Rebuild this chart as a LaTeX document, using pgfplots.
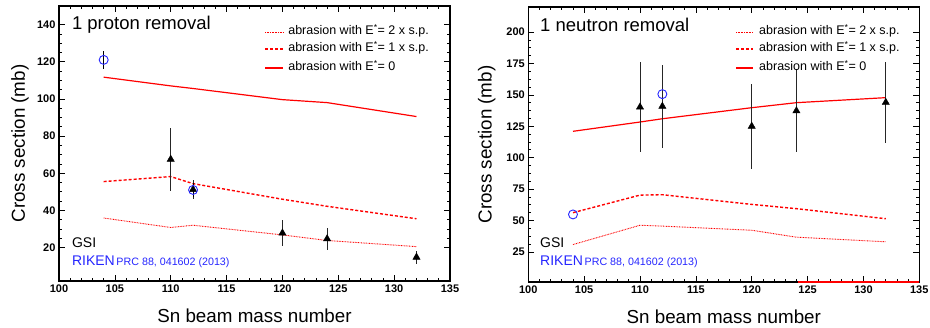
\documentclass[border=0pt]{standalone}
\usepackage{pgfplots}
\pgfplotsset{compat=1.18}
\usepackage{fontspec}
\setmainfont{Liberation Sans}
\definecolor{rkblue}{rgb}{0.15,0.15,1}
\tikzset{
  dotl/.style={draw=red, line width=0.9pt, dash pattern=on 0.8pt off 0.8pt},
  dashl/.style={draw=red, line width=1.4pt, dash pattern=on 3pt off 2pt},
  solidl/.style={draw=red, line width=1.2pt},
  legtxt/.style={anchor=mid west, inner xsep=0pt, font=\fontsize{12.5}{14}\selectfont},
}
\pgfplotsset{
  common/.style={
    scale only axis, width=391pt, height=275pt,
    xmin=100, xmax=135,
    xtick={100,105,...,135}, minor x tick num=4,
    tick align=inside, axis line style={line width=1.3pt},
    major tick length=6pt, minor tick length=3pt,
    every tick/.style={black, line width=0.7pt},
    xtick pos=both, ytick pos=both,
    xticklabel pos=bottom, yticklabel pos=left,
    tick label style={font=\fontsize{11}{12}\selectfont\bfseries},
    /pgf/number format/assume math mode=true,
    /pgf/number format/1000 sep={},
    label style={font=\fontsize{18.8}{22}\selectfont},
    xlabel={Sn beam mass number},
    ylabel={Cross section (mb)},
    xlabel style={at={(axis description cs:0.5,-0.127)}, anchor=center},
  },
  gsi/.style={only marks, mark=triangle*, mark size=4.2pt, black,
    mark options={fill=black},
    error bars/.cd, y dir=both, y explicit,
    error bar style={line width=0.8pt, black!85}, error mark=none},
  riken/.style={only marks, mark=o, mark size=4.5pt, rkblue, mark options={line width=0.9pt},
    error bars/.cd, y dir=both, y explicit,
    error bar style={line width=0.8pt, black}, error mark=none},
}
\begin{document}
\begin{tikzpicture}
% ---------- left: 1 proton removal
\begin{axis}[common, at={(59pt,47pt)}, anchor=south west,
  ymin=2, ymax=150, ytick={20,40,...,140}, minor y tick num=3,
  ylabel style={at={(axis description cs:-0.1,0.5)}, anchor=center},
]
% legend samples
\addplot[solidl] coordinates {(118.45,116.6)(120.06,116.6)};
\addplot[dashl]  coordinates {(118.45,126.9)(120.06,126.9)};
\addplot[dotl]   coordinates {(118.45,135.9)(120.06,135.9)};
% data
\addplot[dotl] coordinates {(104,35.9)(110,30.8)(112,32)(120,26.8)(124,23.8)(132,20.5)};
\addplot[dashl] coordinates {(104,55.5)(110,58.2)(112,54.4)(120,46)(124,42.2)(132,35.5)};
\addplot[solidl] coordinates {(104,111.7)(110,107)(112,105.6)(120,99.6)(124,98)(132,90.5)};
\addplot[gsi] coordinates {
  (110,67.5) +- (0,17)
  (112,51.2) +- (0,5)
  (120,27.8) +- (0,7)
  (124,24.7) +- (0,6)
  (132,14.8) +- (0,3.5)
};
\addplot[riken] coordinates {
  (104,121) +- (0,5)
  (112,51) +- (0,4)
};
\node[legtxt] at (axis description cs:0.586,0.905) {abrasion with E\textsuperscript{*}= 2 x s.p.};
\node[legtxt] at (axis description cs:0.586,0.844) {abrasion with E\textsuperscript{*}= 1 x s.p.};
\node[legtxt] at (axis description cs:0.586,0.775) {abrasion with E\textsuperscript{*}= 0};
\node[anchor=base west, inner xsep=0pt, font=\fontsize{18.5}{21}\selectfont] at (axis cs:101.15,137.1) {1 proton removal};
\node[anchor=base west, inner xsep=0pt, font=\fontsize{14}{16}\selectfont] at (axis cs:101.15,20) {GSI};
\node[anchor=base west, inner xsep=0pt, text=rkblue] at (axis cs:101.15,10.1)
  {{\fontsize{14}{16}\selectfont RIKEN}\,{\fontsize{10.7}{12}\selectfont PRC 88, 041602 (2013)}};
\end{axis}
% ---------- right: 1 neutron removal
\begin{axis}[common, at={(528.3pt,46pt)}, anchor=south west, clip=false,
  ymin=1, ymax=220, ytick={25,50,...,200}, minor y tick num=3,
  ylabel style={at={(axis description cs:-0.106,0.5)}, anchor=center},
]
% legend samples
\addplot[solidl] coordinates {(118.6,171.4)(120.1,171.4)};
\addplot[dashl]  coordinates {(118.6,186.5)(120.1,186.5)};
\addplot[dotl]   coordinates {(118.6,200.1)(120.1,200.1)};
% data
\addplot[dotl] coordinates {(104,30.8)(110,46.2)(112,45.5)(120,42.2)(124,36.7)(132,33)};
\addplot[dashl] coordinates {(104,56.2)(110,70.2)(112,70.5)(120,62.8)(124,59.4)(132,51.4)};
\addplot[solidl] coordinates {(104,121)(110,128.4)(112,131)(120,139.8)(124,143.8)(132,147.8)};
\addplot[gsi] coordinates {
  (110,140.3) +- (0,36)
  (112,140.9) +- (0,33.3)
  (120,125) +- (0,34)
  (124,137.3) +- (0,33)
  (132,144) +- (0,32.5)
};
\addplot[riken] coordinates {
  (104,54.8) +- (0,0)
  (112,150.6) +- (0,0)
};
\addplot[draw=red, line width=1.5pt] coordinates {(124.1,1)(135,1)};
\node[legtxt] at (axis description cs:0.590,0.909) {abrasion with E\textsuperscript{*}= 2 x s.p.};
\node[legtxt] at (axis description cs:0.590,0.847) {abrasion with E\textsuperscript{*}= 1 x s.p.};
\node[legtxt] at (axis description cs:0.590,0.778) {abrasion with E\textsuperscript{*}= 0};
\node[anchor=base west, inner xsep=0pt, font=\fontsize{18.5}{21}\selectfont] at (axis cs:101.05,200.4) {1 neutron removal};
\node[anchor=base west, inner xsep=0pt, font=\fontsize{14}{16}\selectfont] at (axis cs:101.05,28.4) {GSI};
\node[anchor=base west, inner xsep=0pt, text=rkblue] at (axis cs:101.05,13.9)
  {{\fontsize{14}{16}\selectfont RIKEN}\,{\fontsize{10.7}{12}\selectfont PRC 88, 041602 (2013)}};
\end{axis}
\pgfresetboundingbox
\useasboundingbox (0,0) rectangle (930pt,328pt);
\end{tikzpicture}
\end{document}
